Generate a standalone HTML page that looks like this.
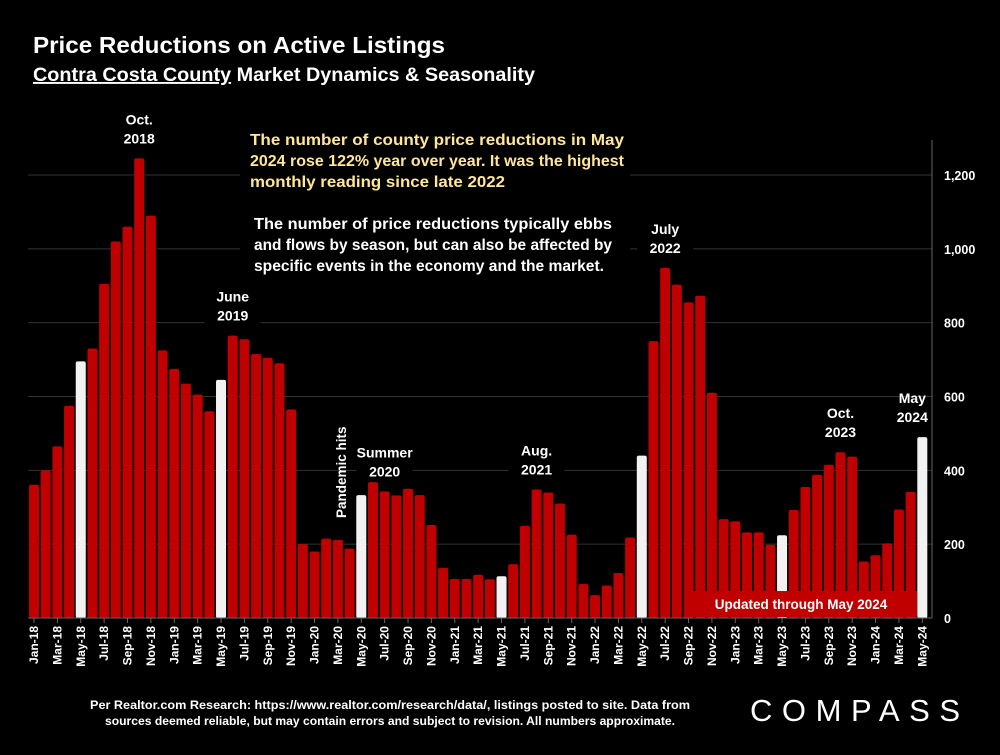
<!DOCTYPE html>
<html><head><meta charset="utf-8"><style>
body{margin:0;background:#000;width:1000px;height:750px;overflow:hidden;font-family:"Liberation Sans",sans-serif}
</style></head><body>
<svg id="chart" width="1000" height="750" xmlns="http://www.w3.org/2000/svg" font-family="Liberation Sans, sans-serif" font-weight="bold">
<rect width="1000" height="750" fill="#000"/>
<text x="33" y="53" fill="#fff" font-size="23" textLength="412" lengthAdjust="spacingAndGlyphs">Price Reductions on Active Listings</text>
<text x="33" y="81" fill="#fff" font-size="19" textLength="502" lengthAdjust="spacingAndGlyphs"><tspan text-decoration="underline">Contra Costa County</tspan> Market Dynamics &amp; Seasonality</text>
<g id="grid"></g>
<g id="bars"></g>
<g id="xlabels"></g>
<line x1="932" y1="140" x2="932" y2="618" stroke="#666" stroke-width="1"/>
<line x1="28" y1="618" x2="932" y2="618" stroke="#666" stroke-width="1"/>
<g>
<rect x="240" y="125" width="390" height="160" fill="#000"/>
<text x="250" y="145" fill="#ffe699" font-size="15.5" textLength="374" lengthAdjust="spacingAndGlyphs">The number of county price reductions in May</text>
<text x="250" y="166" fill="#ffe699" font-size="15.5" textLength="374" lengthAdjust="spacingAndGlyphs">2024 rose 122% year over year. It was the highest</text>
<text x="250" y="187" fill="#ffe699" font-size="15.5" textLength="255" lengthAdjust="spacingAndGlyphs">monthly reading since late 2022</text>
<text x="254" y="229" fill="#fff" font-size="15.5" textLength="358" lengthAdjust="spacingAndGlyphs">The number of price reductions typically ebbs</text>
<text x="254" y="250" fill="#fff" font-size="15.5" textLength="358" lengthAdjust="spacingAndGlyphs">and flows by season, but can also be affected by</text>
<text x="254" y="271" fill="#fff" font-size="15.5" textLength="350" lengthAdjust="spacingAndGlyphs">specific events in the economy and the market.</text>
</g>
<g id="annots" fill="#fff" font-size="14" text-anchor="middle"></g>
<g id="ylabels"></g>
<g>
<rect x="685" y="591" width="232" height="26" fill="#c00000"/>
<text x="801" y="609" fill="#fff" font-size="13.5" text-anchor="middle">Updated through May 2024</text>
</g>
<text x="390" y="709" fill="#fff" font-size="12" text-anchor="middle" textLength="600" lengthAdjust="spacingAndGlyphs">Per Realtor.com Research:  https://www.realtor.com/research/data/, listings posted to site. Data from</text>
<text x="390" y="725" fill="#fff" font-size="12" text-anchor="middle" textLength="570" lengthAdjust="spacingAndGlyphs">sources deemed reliable, but may contain errors and subject to revision. All numbers approximate.</text>
<text x="750" y="721" fill="#fff" font-size="31" font-weight="normal" textLength="210" lengthAdjust="spacing">COMPASS</text>
</svg>
<script>
const months=["Jan","Feb","Mar","Apr","May","Jun","Jul","Aug","Sep","Oct","Nov","Dec"];
const values=[361,400,465,575,695,730,905,1020,1060,1245,1090,725,
675,635,605,560,645,765,755,715,705,690,565,200,
180,215,212,188,333,368,343,332,350,333,252,136,
106,106,117,105,113,146,250,348,340,310,226,92,
62,88,122,218,440,750,948,903,855,873,610,268,
262,232,232,198,224,293,355,388,415,449,437,153,
170,202,294,342,490];
const yTicks=[0,200,400,600,800,1000,1200];
const yTickLabels=["0","200","400","600","800","1,000","1,200"];
const annotations=[["Oct.","2018",9],["June","2019",17],["Summer","2020",30],["Aug.","2021",43],["July","2022",54],["Oct.","2023",69],["May","2024",76]];
const NS="http://www.w3.org/2000/svg";
const x0=29,pitch=900/77,bw=10;
function y(v){return 618-v*443/1200;}
function x(i){return x0+i*pitch;}
function mk(t,a,p){const e=document.createElementNS(NS,t);for(const k in a)e.setAttribute(k,a[k]);p.appendChild(e);return e;}
const grid=document.getElementById('grid'),bars=document.getElementById('bars'),xl=document.getElementById('xlabels'),yl=document.getElementById('ylabels'),an=document.getElementById('annots');
yTicks.forEach((t,k)=>{if(t>0){const l=mk('line',{x1:28,x2:932,y1:y(t),y2:y(t),stroke:'#333','stroke-width':1},grid);

}
const tx=mk('text',{x:944,y:y(t)+5,fill:'#fff','font-size':12.5},yl);tx.textContent=yTickLabels[k];

});
values.forEach((v,i)=>{const white=(i%12)===4;
const r=mk('rect',{x:x(i),y:y(v),width:bw,height:618-y(v),rx:2,fill:white?'#f2f2f2':'#c00000'},bars);


if(i%2===0){const cx=x(i)+bw/2+4;const t=mk('text',{x:cx,y:626,fill:'#fff','font-size':12,'text-anchor':'end',transform:'rotate(-90 '+cx+' 626)'},xl);
t.textContent=months[i%12]+'-'+(18+Math.floor(i/12));


mk('line',{x1:x(i)+bw/2,x2:x(i)+bw/2,y1:618,y2:623,stroke:'#666'},xl);}});
annotations.forEach((a,k)=>{const i=a[2];let cx=x(i)+bw/2;const top=y(values[i])-12;
const last=k===annotations.length-1;if(last)cx-=10;
const g=mk('g',{},an);


if(!last)mk('rect',{x:cx-28,y:top-40,width:56,height:42,fill:'#000'},g);
const t1=mk('text',{x:cx,y:top-22},g);t1.textContent=a[0];
const t2=mk('text',{x:cx,y:top-3},g);t2.textContent=a[1];});
const p=mk('text',{x:346,y:518,fill:'#fff','font-size':13.5,'text-anchor':'start',transform:'rotate(-90 346 518)'},an);
p.textContent='Pandemic hits';


</script>
</body></html>
